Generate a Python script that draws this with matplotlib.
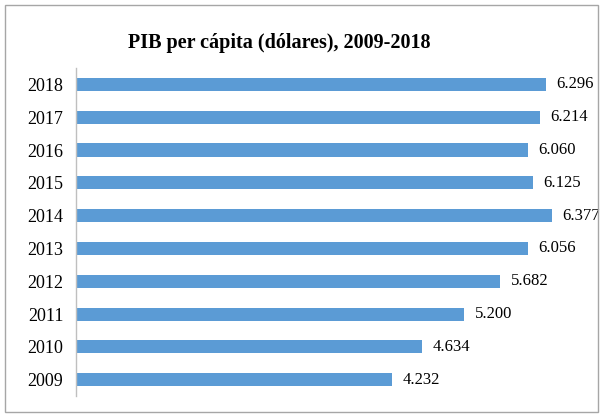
import matplotlib.pyplot as plt
from matplotlib.patches import Rectangle

# Datos: PIB per cápita (dólares)
anios = ['2009', '2010', '2011', '2012', '2013', '2014', '2015', '2016', '2017', '2018']
pib = [4232, 4634, 5200, 5682, 6056, 6377, 6125, 6060, 6214, 6296]

plt.rcParams['font.family'] = ['Liberation Serif', 'DejaVu Serif']

fig = plt.figure(figsize=(6.03, 4.17), dpi=100)
ax = fig.add_axes([0.126, 0.050, 0.854, 0.787])

y = range(len(anios))
ax.barh(y, pib, height=0.4, color='#5B9BD5')

# Etiquetas con punto como separador de miles
for yi, v in zip(y, pib):
    ax.text(v + 140, yi, f'{v:,}'.replace(',', '.'), va='center', ha='left', fontsize=12)

ax.set_yticks(list(y))
ax.set_yticklabels(anios, fontsize=13)
ax.set_ylim(-0.5, len(anios) - 0.5)
ax.set_xlim(0, 6900)
ax.set_xticks([])
ax.tick_params(axis='y', length=0, pad=9)

for s in ['top', 'right', 'bottom']:
    ax.spines[s].set_visible(False)
ax.spines['left'].set_color('#BFBFBF')
ax.spines['left'].set_linewidth(1.0)

fig.text(0.463, 0.898, 'PIB per cápita (dólares), 2009-2018', ha='center', va='center',
         fontsize=14.5, fontweight='bold')

# Marco del gráfico
fig.patches.append(Rectangle((0.008, 0.012), 0.984, 0.976, transform=fig.transFigure,
                             fill=False, edgecolor='#A6A6A6', linewidth=1.0))

fig.savefig('out.png', dpi=100)
